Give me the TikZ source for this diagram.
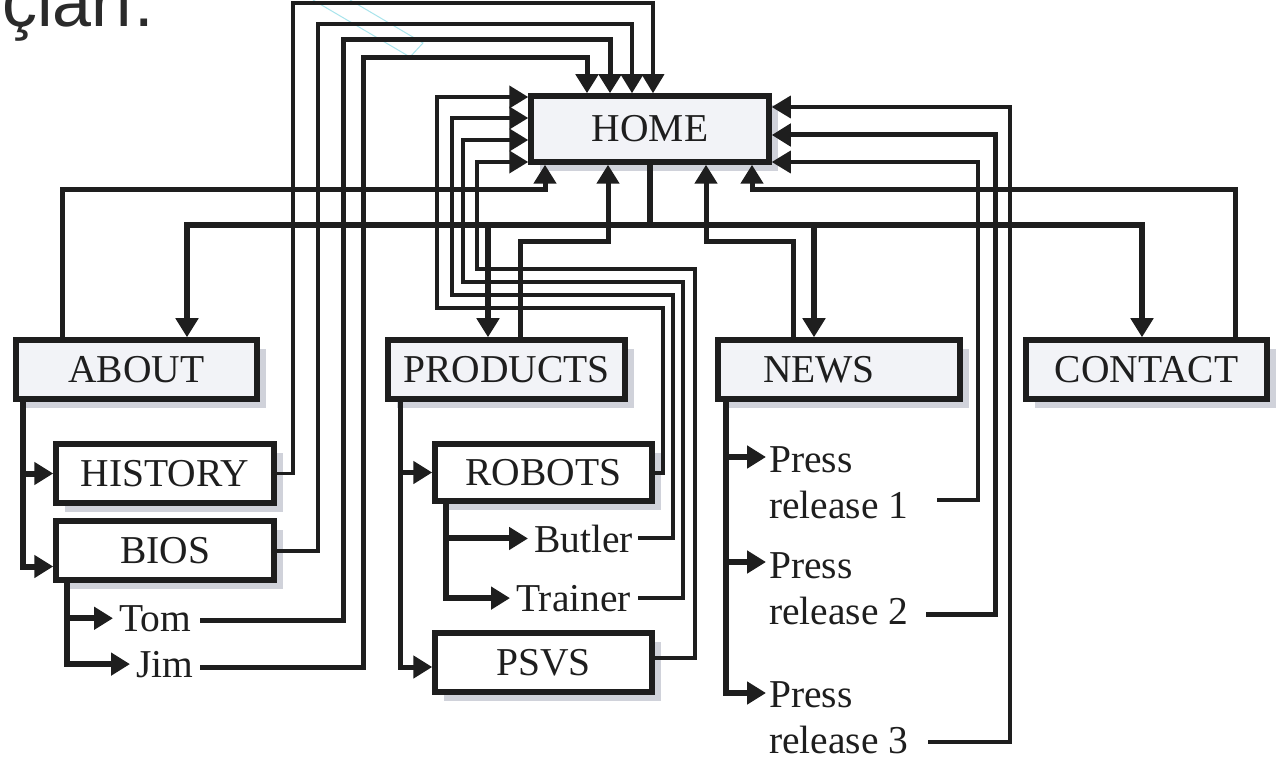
\documentclass[tikz,border=0pt]{standalone}
\usepackage{fontspec}
\setmainfont{Liberation Serif}
\newfontfamily\hdfamily{Liberation Sans}
\usetikzlibrary{arrows.meta,shadows}
\definecolor{ink}{HTML}{1E1E1E}
\definecolor{boxfill}{HTML}{F2F3F7}
\definecolor{shade}{HTML}{D0D2DA}
\definecolor{hdgray}{HTML}{2B2B2B}
\definecolor{selcyan}{HTML}{A8E4EC}
\newcommand\dgfont{\fontsize{39.5pt}{46pt}\selectfont}
\begin{document}
\begin{tikzpicture}[x=1pt,y=-1pt,
  box/.style={draw=ink, line width=5.5pt, inner sep=0pt, minimum height=59pt, font=\dgfont, text=ink,
    drop shadow={shadow xshift=9pt, shadow yshift=-9pt, fill=shade, opacity=1}},
  mainbox/.style={box, fill=boxfill},
  subbox/.style={box, fill=white},
  leaf/.style={inner sep=0pt, font=\dgfont, text=ink},
  bus/.style={draw=ink, line width=5.5pt},
  link/.style={draw=ink, line width=5pt},
  midlink/.style={draw=ink, line width=4pt},
  thinlink/.style={draw=ink, line width=3.5pt},
  treeline/.style={draw=ink, line width=6pt},
  tip/.style={-{Triangle[length=19pt,width=22pt]}}]
\useasboundingbox (0,0) rectangle (1278,762);
\clip (0,0) rectangle (1278,762);
\fill[white] (0,0) rectangle (1278,762);

% heading fragment (cut off at the top edge, as in the reference) and selection artefact
\node[anchor=base west, inner sep=0pt, text=hdgray, font=\hdfamily\fontsize{70pt}{74pt}\selectfont] (title) at (2,27) {çları.};
\draw[selcyan, line width=1pt] (350,0) -- (423,43) -- (410,57) -- (313,0);

% boxes
\node[mainbox, minimum width=238pt, minimum height=66pt] (home) at (650,129) {HOME};
\node[mainbox, minimum width=241pt] (about) at (136.5,369.5) {ABOUT};
\node[mainbox, minimum width=237pt] (products) at (506.5,369.5) {PRODUCTS};
\node[mainbox, minimum width=242pt] (news) at (839,369.5) {NEWS\hspace*{40pt}};
\node[mainbox, minimum width=241pt] (contact) at (1146.5,369.5) {CONTACT};
\node[subbox, minimum width=218pt] (history) at (165,473.5) {HISTORY};
\node[subbox, minimum width=218pt] (bios) at (165,550.5) {BIOS};
\node[subbox, minimum width=217pt, minimum height=57pt] (robots) at (543.5,472.5) {ROBOTS};
\node[subbox, minimum width=217pt] (psvs) at (543.5,662.5) {PSVS};

% leaves
\node[leaf, anchor=base west] (tom) at (119,631) {Tom};
\node[leaf, anchor=base west] (jim) at (136,677) {Jim};
\node[leaf, anchor=base west] (butler) at (534,552) {Butler};
\node[leaf, anchor=base west] (trainer) at (516,611) {Trainer};
\node[leaf, anchor=base west] (pr1) at (769,472) {\vtop{\hbox{Press}\hbox{release 1}}};
\node[leaf, anchor=base west] (pr2) at (769,578) {\vtop{\hbox{Press}\hbox{release 2}}};
\node[leaf, anchor=base west] (pr3) at (769,707) {\vtop{\hbox{Press}\hbox{release 3}}};

\coordinate (tomout) at (200,620);
\coordinate (jimout) at (200,667);
\coordinate (butlerout) at (638,538);
\coordinate (trainerout) at (638,598);
\coordinate (pr1out) at (937,500);
\coordinate (pr2out) at (926,614);
\coordinate (pr3out) at (928,742);

% home to sections
\draw[bus,tip] (home.south) -- (650,225) -| ([xshift=50.5pt]about.north);
\draw[bus,tip] (home.south) -- (650,225) -| ([xshift=-18.5pt]products.north);
\draw[bus,tip] (home.south) -- (650,225) -| ([xshift=-25pt]news.north);
\draw[bus,tip] (home.south) -- (650,225) -| ([xshift=-4.5pt]contact.north);

% sections back to home
\draw[link,tip] ([xshift=-74.5pt]about.north) |- (545,190) -- ([xshift=-105pt]home.south);
\draw[link,tip] ([xshift=13.5pt]products.north) |- (608,242) -- ([xshift=-42pt]home.south);
\draw[link,tip] ([xshift=-46pt]news.north) |- (706,242) -- ([xshift=56pt]home.south);
\draw[link,tip] ([xshift=88.5pt]contact.north) |- (752,190) -- ([xshift=102pt]home.south);

% about pages back to home
\draw[thinlink,tip] (history.east) -| (293,3) -| ([xshift=3pt]home.north);
\draw[midlink,tip] (bios.east) -| (318,24) -| ([xshift=-18pt]home.north);
\draw[link,tip] (tomout) -| (343,40) -| ([xshift=-40pt]home.north);
\draw[link,tip] (jimout) -| (363,58) -| ([xshift=-63pt]home.north);

% product pages back to home
\draw[midlink,tip] (robots.east) -| (663,308) -| (437,97) -- ([yshift=32pt]home.west);
\draw[midlink,tip] (butlerout) -| (673,295) -| (452,118) -- ([yshift=11pt]home.west);
\draw[midlink,tip] (trainerout) -| (683,282) -| (463,140) -- ([yshift=-11pt]home.west);
\draw[midlink,tip] ([yshift=4.5pt]psvs.east) -| (695,269) -| (477,162) -- ([yshift=-33pt]home.west);

% news pages back to home
\draw[thinlink,tip] (pr1out) -| (978,162) -- ([yshift=-33pt]home.east);
\draw[link,tip] (pr2out) -| (995,135) -- ([yshift=-6pt]home.east);
\draw[thinlink,tip] (pr3out) -| (1010,107) -- ([yshift=22pt]home.east);

% trees
\draw[treeline,tip] ([xshift=-113.5pt]about.south) |- (history.west);
\draw[treeline,tip] ([xshift=-113.5pt]about.south) |- ([yshift=-16pt]bios.west);
\draw[treeline,tip] ([xshift=-98pt]bios.south) |- ([xshift=-6pt]tom.west);
\draw[treeline,tip] ([xshift=-98pt]bios.south) |- ([xshift=-6pt]jim.west);
\draw[link,tip] ([xshift=-106.5pt]products.south) |- (robots.west);
\draw[link,tip] ([xshift=-106.5pt]products.south) |- ([yshift=-4.5pt]psvs.west);
\draw[treeline,tip] ([xshift=-97.5pt]robots.south) |- ([xshift=-6pt]butler.west);
\draw[treeline,tip] ([xshift=-97.5pt]robots.south) |- ([xshift=-6pt]trainer.west);
\draw[treeline,tip] ([xshift=-113pt]news.south) |- ([xshift=-3pt,yshift=15pt]pr1.base west);
\draw[treeline,tip] ([xshift=-113pt]news.south) |- ([xshift=-3pt,yshift=16pt]pr2.base west);
\draw[treeline,tip] ([xshift=-113pt]news.south) |- ([xshift=-3pt,yshift=14pt]pr3.base west);
\end{tikzpicture}
\end{document}
